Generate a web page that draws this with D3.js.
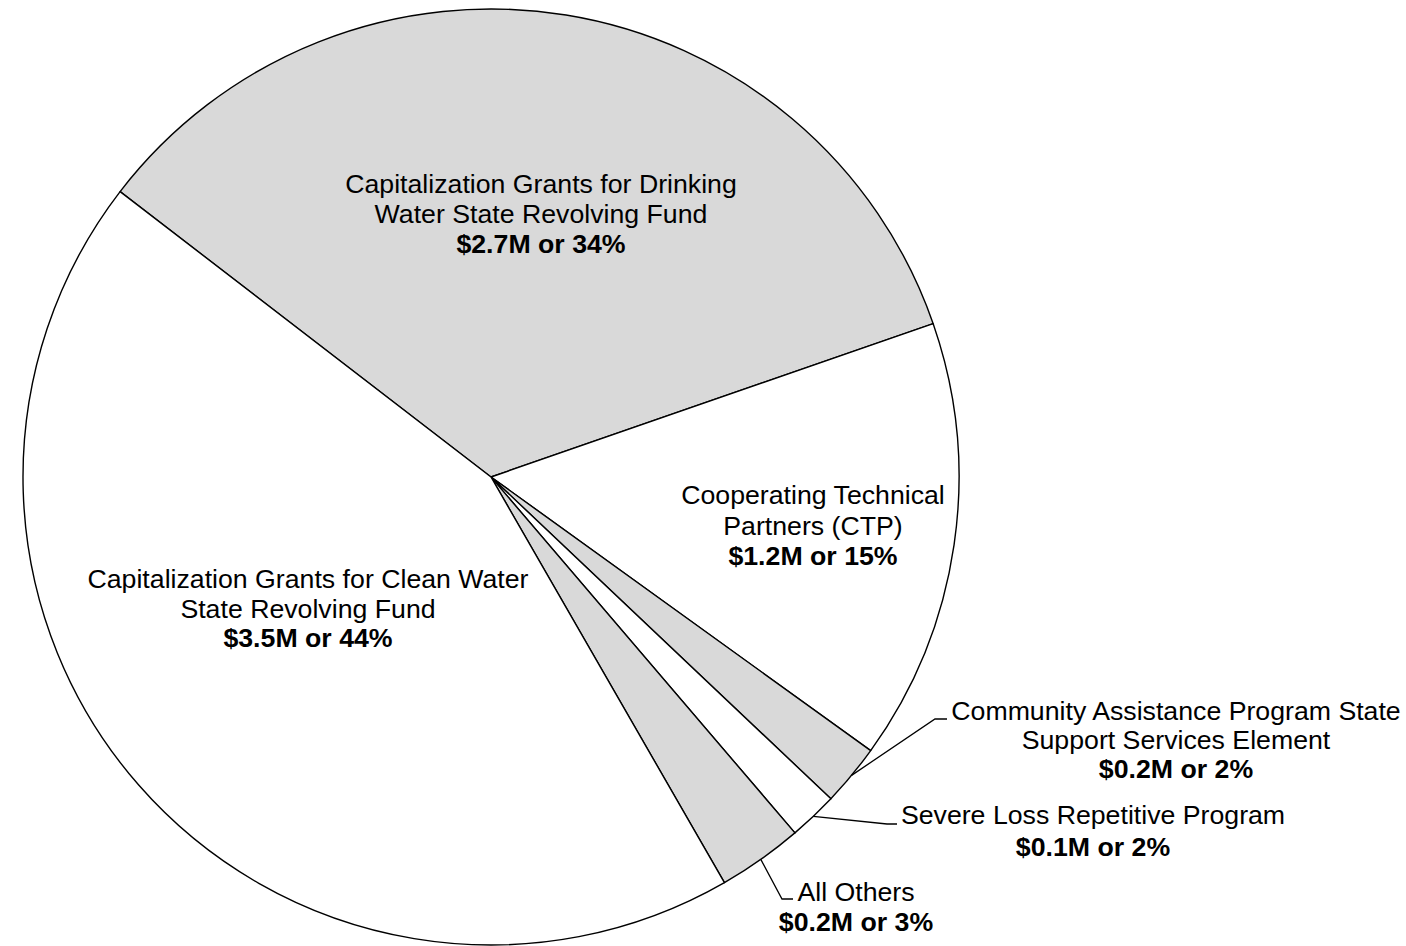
<!DOCTYPE html>
<html>
<head>
<meta charset="utf-8">
<script src="https://cdn.jsdelivr.net/npm/d3@7"></script>
<style>
  html, body { margin: 0; padding: 0; background: #fff; }
  svg { display: block; }
  text { font-family: "Liberation Sans", Arial, Helvetica, sans-serif; fill: #000; }
</style>
</head>
<body>
<svg id="chart" width="1406" height="946"></svg>
<script>
// ---- data ----
const categories = [
  "Capitalization Grants for Drinking Water State Revolving Fund",
  "Cooperating Technical Partners (CTP)",
  "Community Assistance Program State Support Services Element",
  "Severe Loss Repetitive Program",
  "All Others",
  "Capitalization Grants for Clean Water State Revolving Fund"
];
const valuesM = [2.74, 1.22, 0.17, 0.135, 0.235, 3.5];
const labelLines = [
  ["Capitalization Grants for Drinking", "Water State Revolving Fund"],
  ["Cooperating Technical", "Partners (CTP)"],
  ["Community Assistance Program State", "Support Services Element"],
  ["Severe Loss Repetitive Program"],
  ["All Others"],
  ["Capitalization Grants for Clean Water", "State Revolving Fund"]
];
const fills = ["#d9d9d9", "#ffffff", "#d9d9d9", "#ffffff", "#d9d9d9", "#ffffff"];

// ---- layout (positions only) ----
const cx = 491, cy = 477, R = 468;
const startDeg = -52.42;
const labelLayout = [
  { x: 541, y: 193, dy: 30 },
  { x: 813, y: 504, dy: 30.5 },
  { x: 1176, y: 720, dy: 29, leader: [[935, 719], [947, 719]] },
  { x: 1093, y: 824, dy: 31.5, leader: [[887, 824], [897, 824]] },
  { x: 856, y: 901, dy: 30, leader: [[782, 899], [793, 899]] },
  { x: 308, y: 588, dy: 29.5 }
];

const total = d3.sum(valuesM);
const data = categories.map((c, i) => ({
  name: c, value: valuesM[i], lines: labelLines[i], fill: fills[i], layout: labelLayout[i]
}));

const svg = d3.select("#chart");
const g = svg.append("g").attr("transform", `translate(${cx},${cy})`);

const start = startDeg * Math.PI / 180;
const pie = d3.pie().sort(null).value(d => d.value)
  .startAngle(start).endAngle(start + 2 * Math.PI);
const arcs = pie(data);
const arc = d3.arc().innerRadius(0).outerRadius(R);
const edgeArc = d3.arc().innerRadius(R).outerRadius(R);

g.selectAll("path.slice").data(arcs).enter().append("path")
  .attr("class", "slice")
  .attr("d", arc)
  .attr("fill", d => d.data.fill)
  .attr("stroke", "#000")
  .attr("stroke-width", 1.4)
  .attr("stroke-linejoin", "round");

// leader lines
arcs.filter(d => d.data.layout.leader).forEach(d => {
  const p0 = edgeArc.centroid(d);
  const pts = [[p0[0] + cx, p0[1] + cy]].concat(d.data.layout.leader);
  svg.append("path")
    .attr("d", d3.line()(pts))
    .attr("fill", "none")
    .attr("stroke", "#000")
    .attr("stroke-width", 1.3);
});

// labels
arcs.forEach(d => {
  const L = d.data.layout;
  const pct = d.data.value / total * 100;
  const valText = "$" + d.data.value.toFixed(1) + "M or " + Math.round(pct) + "%";
  const t = svg.append("text")
    .attr("text-anchor", "middle")
    .attr("font-size", 26.7);
  d.data.lines.forEach((ln, i) => {
    t.append("tspan").attr("x", L.x).attr("y", L.y + i * L.dy).text(ln);
  });
  t.append("tspan").attr("x", L.x).attr("y", L.y + d.data.lines.length * L.dy)
    .attr("font-weight", "bold").text(valText);
});
</script>
</body>
</html>
